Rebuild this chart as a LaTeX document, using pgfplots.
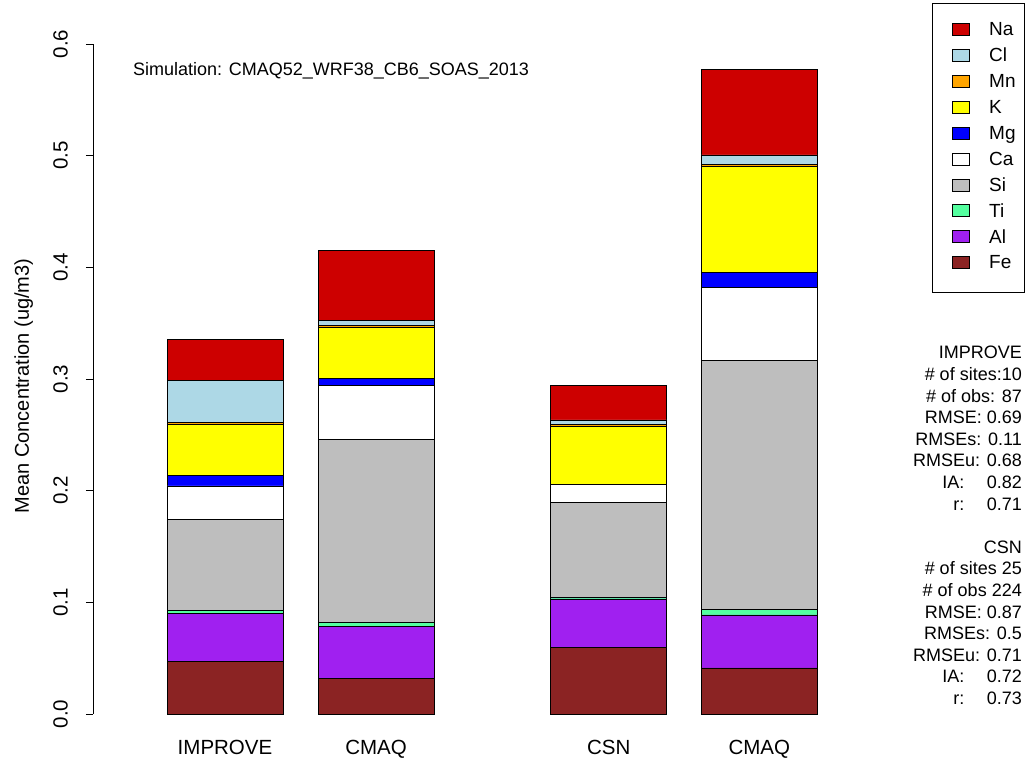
\documentclass[border=0pt]{standalone}
\usepackage{fontspec}
\setmainfont{Liberation Sans}
\usepackage{pgfplots}
\usepackage{pgfplotstable}
\pgfplotsset{compat=1.18}
\definecolor{cNa}{RGB}{205,0,0}
\definecolor{cCl}{RGB}{173,216,230}
\definecolor{cMn}{RGB}{255,165,0}
\definecolor{cK}{RGB}{255,255,0}
\definecolor{cMg}{RGB}{0,0,255}
\definecolor{cCa}{RGB}{255,255,255}
\definecolor{cSi}{RGB}{190,190,190}
\definecolor{cTi}{RGB}{84,255,159}
\definecolor{cAl}{RGB}{160,32,240}
\definecolor{cFe}{RGB}{139,35,35}
\pgfplotstableread{
x Fe Al Ti Si Ca Mg K Mn Cl Na
225 0.0469 0.0433 0.0029 0.0812 0.0299 0.0098 0.0455 0.0013 0.0377 0.0373
376 0.0320 0.0465 0.0033 0.1642 0.0483 0.0060 0.0460 0.0018 0.0041 0.0627
608.7 0.0597 0.0433 0.0015 0.0847 0.0160 0.0005 0.0522 0.0015 0.0039 0.0307
759.3 0.0412 0.0475 0.0050 0.2227 0.0654 0.0140 0.0949 0.0015 0.0084 0.0770
}\data
\begin{document}
\begin{tikzpicture}
\useasboundingbox (-93pt,-48pt) rectangle (935pt,714pt);
\begin{axis}[
  scale only axis, width=935pt, height=670pt,
  xmin=93, xmax=1028, ymin=0, ymax=0.6,
  clip=false,
  axis x line*=bottom, axis y line*=left,
  axis line style={-},
  x axis line style={draw=none},
  xtick={225,376,608.7,759.3},
  xticklabels={IMPROVE,CMAQ,CSN,CMAQ},
  xtick style={draw=none},
  xticklabel style={font=\fontsize{20.5}{20.5}\selectfont, anchor=base, inner sep=0pt, yshift=-34pt},
  ytick={0,0.1,0.2,0.3,0.4,0.5,0.6},
  tick align=outside, major tick length=7pt,
  ytick style={line width=0.8pt, black},
  y axis line style={line width=0.8pt},
  yticklabel style={rotate=90, anchor=south, inner sep=0pt, yshift=18pt,
    font=\fontsize{20.5}{20.5}\selectfont,
    /pgf/number format/.cd, fixed, fixed zerofill, precision=1, assume math mode=true},
  ybar stacked, bar width=116pt,
  every axis plot/.append style={draw=black, line width=0.8pt},
  reverse legend,
  legend cell align=left,
  legend image code/.code={\path (0pt,0pt); \draw[#1, draw=black, line width=0.8pt] (11pt,-4.2pt) rectangle (28pt,7.8pt);},
  legend style={at={(0.99679,1.0612)}, anchor=north east, draw=black, line width=0.8pt,
    fill=white, inner xsep=9pt, inner ysep=18.5pt, row sep=6.9pt, column sep=19pt,
    font=\fontsize{19}{19}\selectfont,
    nodes={inner sep=0pt, text height=14pt, text depth=5pt}},
]
\addplot[fill=cFe] table[x=x,y=Fe] {\data};
\addplot[fill=cAl] table[x=x,y=Al] {\data};
\addplot[fill=cTi] table[x=x,y=Ti] {\data};
\addplot[fill=cSi] table[x=x,y=Si] {\data};
\addplot[fill=cCa] table[x=x,y=Ca] {\data};
\addplot[fill=cMg] table[x=x,y=Mg] {\data};
\addplot[fill=cK] table[x=x,y=K] {\data};
\addplot[fill=cMn] table[x=x,y=Mn] {\data};
\addplot[fill=cCl] table[x=x,y=Cl] {\data};
\addplot[fill=cNa] table[x=x,y=Na] {\data};
\legend{Fe,Al,Ti,Si,Ca,Mg,K,Mn,Cl,Na}
\end{axis}
\node[rotate=90, anchor=base, inner sep=0pt, font=\fontsize{20}{20}\selectfont] at (-64pt,328pt) {Mean Concentration (ug/m3)};
\node[anchor=base west, inner sep=0pt, font=\fontsize{18}{18}\selectfont] at (40pt,638pt) {Simulation: CMAQ52\_WRF38\_CB6\_SOAS\_2013};
\begin{scope}[every node/.style={anchor=base east, inner sep=0pt, font=\fontsize{18}{18}\selectfont}]
\node at (929pt,355pt) {IMPROVE};
\node at (929pt,333.4pt) {\# of sites:10};
\node at (929pt,311.8pt) {\# of obs: 87};
\node at (929pt,290.2pt) {RMSE: 0.69};
\node at (929pt,268.6pt) {RMSEs: 0.11};
\node at (929pt,247pt) {RMSEu: 0.68};
\node at (929pt,225.4pt) {IA:\hspace{1.25em}0.82};
\node at (929pt,203.8pt) {r:\hspace{1.25em}0.71};
\node at (929pt,160.6pt) {CSN};
\node at (929pt,139pt) {\# of sites 25};
\node at (929pt,117.4pt) {\# of obs 224};
\node at (929pt,95.8pt) {RMSE: 0.87};
\node at (929pt,74.2pt) {RMSEs: 0.5};
\node at (929pt,52.6pt) {RMSEu: 0.71};
\node at (929pt,31pt) {IA:\hspace{1.25em}0.72};
\node at (929pt,9.4pt) {r:\hspace{1.25em}0.73};
\end{scope}
\end{tikzpicture}
\end{document}
